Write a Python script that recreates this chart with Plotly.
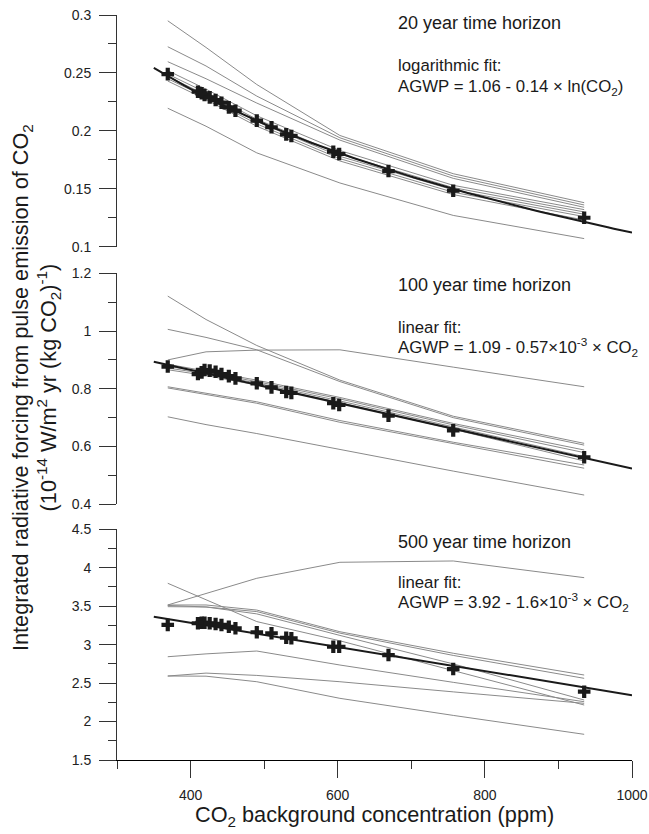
import numpy as np
import plotly.graph_objects as go

# ---------------- data ----------------
co2 = [369, 410, 415, 419, 426, 434, 442, 452, 461, 490, 510, 530, 537, 594, 602, 669, 757, 935]
agwp20 = [0.249, 0.2338, 0.2324, 0.2309, 0.2289, 0.2266, 0.2243, 0.2203, 0.2174, 0.2088,
          0.2031, 0.1970, 0.1956, 0.1820, 0.1800, 0.1653, 0.1483, 0.1250]
agwp100 = [0.877, 0.851, 0.857, 0.865, 0.863, 0.859, 0.851, 0.844, 0.836, 0.819,
           0.805, 0.789, 0.786, 0.750, 0.744, 0.707, 0.656, 0.563]
agwp500 = [3.256, 3.278, 3.285, 3.285, 3.278, 3.269, 3.256, 3.233, 3.213, 3.161,
           3.148, 3.090, 3.083, 2.973, 2.973, 2.865, 2.683, 2.388]

model_co2 = [369, 421, 490, 603, 757, 935]
models20 = [
    [0.295, 0.272, 0.240, 0.196, 0.163, 0.138],
    [0.2726, 0.256, 0.230, 0.194, 0.161, 0.136],
    [0.2597, 0.245, 0.224, 0.192, 0.159, 0.134],
    [0.252, 0.236, 0.213, 0.183, 0.153, 0.132],
    [0.249, 0.233, 0.210, 0.180, 0.151, 0.130],
    [0.247, 0.231, 0.208, 0.178, 0.149, 0.128],
    [0.245, 0.229, 0.206, 0.176, 0.147, 0.126],
    [0.243, 0.227, 0.204, 0.174, 0.145, 0.123],
    [0.2195, 0.204, 0.181, 0.155, 0.127, 0.107],
]
models100 = [
    [1.121, 1.040, 0.950, 0.830, 0.705, 0.611],
    [1.006, 0.978, 0.935, 0.825, 0.700, 0.605],
    [0.900, 0.928, 0.934, 0.935, 0.875, 0.807],
    [0.885, 0.862, 0.830, 0.770, 0.680, 0.588],
    [0.878, 0.857, 0.825, 0.765, 0.675, 0.579],
    [0.872, 0.852, 0.820, 0.758, 0.668, 0.565],
    [0.866, 0.846, 0.813, 0.752, 0.660, 0.550],
    [0.807, 0.785, 0.755, 0.690, 0.615, 0.536],
    [0.803, 0.780, 0.750, 0.684, 0.610, 0.525],
    [0.703, 0.676, 0.645, 0.589, 0.515, 0.432],
]
models500 = [
    [3.516, 3.668, 3.863, 4.071, 4.088, 3.871],
    [3.798, 3.580, 3.300, 3.050, 2.660, 2.215],
    [3.516, 3.516, 3.450, 3.168, 2.888, 2.605],
    [3.494, 3.490, 3.430, 3.150, 2.860, 2.562],
    [3.510, 3.490, 3.400, 3.120, 2.750, 2.280],
    [2.843, 2.880, 2.917, 2.735, 2.510, 2.258],
    [2.592, 2.630, 2.600, 2.518, 2.386, 2.237],
    [2.592, 2.590, 2.518, 2.302, 2.080, 1.834],
]

# fit coefficients: value = a - b * f(CO2)
fit20 = (1.0475, 0.1354)      # logarithmic
fit100 = (1.093, 5.695e-4)    # linear
fit500 = (3.912, 1.569e-3)    # linear
fit_span = [350, 1000]

FONT = "Liberation Sans, Arial, Helvetica, sans-serif"
GRAY = "#8a8a8a"
BLACK = "#1a1a1a"
AX = "#333333"

fig = go.Figure()

xf = np.linspace(fit_span[0], fit_span[1], 80)
fits = [
    fit20[0] - fit20[1] * np.log(xf),
    fit100[0] - fit100[1] * xf,
    fit500[0] - fit500[1] * xf,
]
panels = [(models20, agwp20), (models100, agwp100), (models500, agwp500)]
axnames = [("x", "y"), ("x2", "y2"), ("x3", "y3")]

for i, ((models, pts), (xa, ya)) in enumerate(zip(panels, axnames)):
    for m in models:
        fig.add_trace(go.Scatter(x=model_co2, y=m, mode="lines",
                                 line=dict(color=GRAY, width=1),
                                 xaxis=xa, yaxis=ya, showlegend=False, hoverinfo="skip"))
    fig.add_trace(go.Scatter(x=xf, y=fits[i], mode="lines",
                             line=dict(color=BLACK, width=2),
                             xaxis=xa, yaxis=ya, showlegend=False))
    fig.add_trace(go.Scatter(x=co2, y=pts, mode="markers",
                             marker=dict(symbol="cross", size=10.5, color=BLACK,
                                         line=dict(width=0)),
                             xaxis=xa, yaxis=ya, showlegend=False))

H = 745.0  # plot-area height in px (t=15, b=74)
def yp(py):
    return (760 - py) / H
def xp(px):
    return (px - 117) / 515.0

common_y = dict(showline=True, linecolor=AX, linewidth=1, ticks="outside", ticklen=17,
                tickcolor=AX, tickwidth=1, showgrid=False, zeroline=False,
                tickfont=dict(size=14, color="#222222", family=FONT),
                ticklabelstandoff=5, automargin=False)

fig.update_layout(
    width=649, height=834,
    margin=dict(l=117, r=17, t=15, b=74, autoexpand=False),
    paper_bgcolor="white", plot_bgcolor="white",
    font=dict(family=FONT, color="#1a1a1a"),
    xaxis=dict(domain=[0, 1], range=[300, 1000], anchor="y", visible=False,
               matches="x3", automargin=False),
    xaxis2=dict(domain=[0, 1], range=[300, 1000], anchor="y2", visible=False,
                matches="x3", automargin=False),
    xaxis3=dict(domain=[0, 1], range=[300, 1000], anchor="y3",
                showline=True, linecolor="black", linewidth=1,
                ticks="outside", ticklen=17, tickcolor=AX, tickwidth=1,
                tickmode="linear", tick0=400, dtick=200,
                minor=dict(ticks="outside", ticklen=8, tickcolor=AX, tick0=300, dtick=100),
                showgrid=False, zeroline=False, automargin=False,
                tickfont=dict(size=14, color="#222222", family=FONT),
                ticklabelstandoff=5),
    yaxis=dict(domain=[yp(246.7), 1.0], range=[0.1, 0.3], anchor="x",
               tickmode="linear", tick0=0.1, dtick=0.05,
               minor=dict(ticks="outside", ticklen=8, tickcolor=AX, tick0=0.1, dtick=0.025),
               **common_y),
    yaxis2=dict(domain=[yp(504.3), yp(273.3)], range=[0.4, 1.2], anchor="x2",
                tickmode="linear", tick0=0.4, dtick=0.2,
                minor=dict(ticks="outside", ticklen=8, tickcolor=AX, tick0=0.4, dtick=0.1),
                **common_y),
    yaxis3=dict(domain=[0, yp(529.3)], range=[1.5, 4.5], anchor="x3",
                tickmode="linear", tick0=1.5, dtick=0.5,
                minor=dict(ticks="outside", ticklen=8, tickcolor=AX, tick0=1.5, dtick=0.25),
                **common_y),
)

ann = []
def add_text(text, px, py, size, **kw):
    d = dict(text=text, x=xp(px), y=yp(py), xref="paper", yref="paper",
             xanchor="left", yanchor="middle", showarrow=False,
             font=dict(size=size, family=FONT, color="#1a1a1a"))
    d.update(kw)
    ann.append(d)

tx = 396
add_text("20 year time horizon", tx, 23, 18)
add_text("logarithmic fit:", tx, 65, 16.8)
add_text("AGWP = 1.06 - 0.14 × ln(CO<sub>2</sub>)", tx, 87, 16.8)
add_text("100 year time horizon", tx, 285, 18)
add_text("linear fit:", tx, 327, 16.8)
add_text("AGWP = 1.09 - 0.57×10<sup>-3</sup> × CO<sub>2</sub>", tx, 347, 16.8)
add_text("500 year time horizon", tx, 542, 18)
add_text("linear fit:", tx, 582, 16.8)
add_text("AGWP = 3.92 - 1.6×10<sup>-3</sup> × CO<sub>2</sub>", tx, 602, 16.8)

ann.append(dict(text="CO<sub>2</sub> background concentration (ppm)",
                x=xp(374), y=yp(816), xref="paper", yref="paper",
                xanchor="center", yanchor="middle", showarrow=False,
                font=dict(size=21.7, family=FONT, color="#1a1a1a")))
ann.append(dict(text="Integrated radiative forcing from pulse emission of CO<sub>2</sub><br>"
                     "(10<sup>-14</sup> W/m<sup>2</sup> yr (kg CO<sub>2</sub>)<sup>-1</sup>)",
                x=xp(36), y=yp(388), xref="paper", yref="paper",
                xanchor="center", yanchor="middle", textangle=-90, showarrow=False,
                font=dict(size=21.7, family=FONT, color="#1a1a1a")))
fig.update_layout(annotations=ann)

fig.write_html("out.html",
               config={"displayModeBar": False},
               post_script="document.body.style.margin='0';document.body.style.padding='0';")
